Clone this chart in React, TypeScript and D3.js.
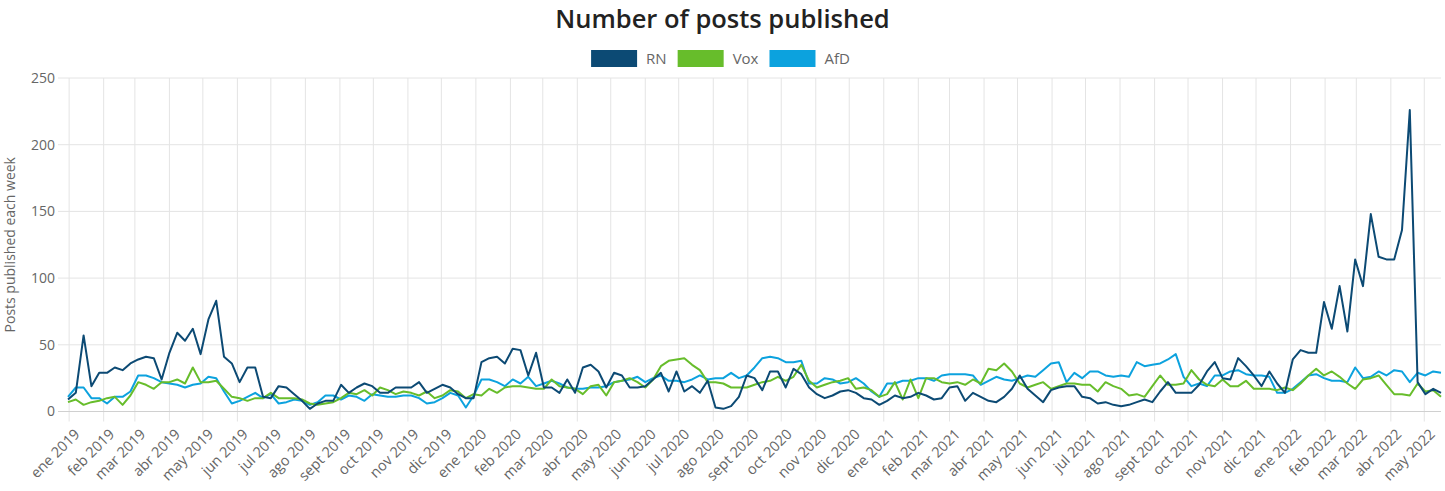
import { useEffect, useRef } from "react"
import * as d3 from "d3"

// weekly counts, first week starts Mon 31 Dec 2018
const firstWeek = new Date(2018, 11, 31)

const rn = [
  9, 14, 57, 19, 29, 29, 33, 31, 36, 39,
  41, 40, 24, 44, 59, 53, 62, 43, 69, 83,
  41, 36, 22, 33, 33, 11, 10, 19, 18, 13,
  8, 2, 6, 8, 8, 20, 14, 18, 21, 19,
  14, 14, 18, 18, 18, 22, 14, 17, 20, 18,
  13, 10, 10, 37, 40, 41, 36, 47, 46, 27,
  44, 18, 18, 14, 24, 14, 33, 35, 30, 18,
  29, 27, 18, 18, 19, 24, 29, 15, 30, 15,
  19, 14, 23, 3, 2, 4, 11, 27, 25, 16,
  30, 30, 18, 32, 28, 18, 13, 10, 12, 15,
  16, 14, 10, 9, 5, 8, 12, 10, 11, 14,
  12, 9, 10, 18, 19, 8, 14, 11, 8, 7,
  11, 17, 27, 17, 12, 7, 16, 18, 19, 19,
  11, 10, 6, 7, 5, 4, 5, 7, 9, 7,
  15, 22, 14, 14, 14, 20, 30, 37, 25, 24,
  40, 34, 27, 19, 30, 21, 14, 39, 46, 44,
  44, 82, 62, 94, 60, 114, 94, 148, 116, 114,
  114, 136, 226, 22, 13, 17, 14,
]

const vox = [
  7, 9, 5, 7, 8, 10, 11, 5, 12, 22,
  20, 17, 22, 22, 24, 21, 33, 22, 22, 23,
  17, 11, 10, 8, 10, 10, 14, 10, 10, 10,
  9, 6, 5, 6, 7, 10, 14, 13, 16, 12,
  18, 16, 13, 15, 14, 12, 15, 10, 12, 16,
  15, 10, 13, 12, 17, 14, 18, 19, 19, 18,
  17, 17, 24, 19, 18, 17, 13, 19, 20, 12,
  22, 23, 25, 22, 18, 24, 34, 38, 39, 40,
  35, 31, 22, 22, 21, 18, 18, 18, 20, 22,
  23, 26, 23, 26, 35, 23, 18, 20, 22, 23,
  25, 17, 18, 16, 11, 13, 22, 9, 24, 10,
  25, 25, 22, 21, 22, 20, 24, 21, 32, 31,
  36, 30, 21, 18, 20, 22, 17, 19, 21, 21,
  20, 20, 15, 22, 19, 17, 12, 13, 11, 19,
  27, 20, 20, 21, 31, 24, 20, 19, 24, 19,
  19, 23, 17, 17, 17, 16, 18, 16, 21, 27,
  32, 27, 30, 26, 21, 17, 24, 25, 27, 20,
  13, 13, 12, 21, 15, 16, 11,
]

const afd = [
  11, 18, 18, 10, 10, 6, 11, 11, 15, 27,
  27, 25, 22, 21, 20, 18, 20, 21, 26, 25,
  15, 6, 8, 11, 14, 10, 13, 6, 7, 9,
  8, 5, 7, 12, 12, 9, 12, 11, 8, 13,
  12, 11, 11, 12, 12, 10, 6, 7, 10, 14,
  12, 3, 12, 24, 24, 22, 19, 24, 21, 26,
  19, 21, 23, 21, 18, 17, 17, 18, 18, 19,
  22, 23, 24, 26, 22, 25, 27, 23, 23, 22,
  24, 27, 24, 25, 25, 29, 25, 27, 33, 40,
  41, 40, 37, 37, 38, 21, 21, 25, 24, 21,
  22, 25, 21, 15, 11, 21, 21, 23, 23, 25,
  25, 23, 27, 28, 28, 28, 27, 20, 23, 26,
  24, 23, 25, 27, 26, 31, 36, 37, 22, 29,
  25, 30, 30, 27, 26, 27, 26, 37, 34, 35,
  36, 39, 43, 26, 19, 21, 19, 27, 27, 30,
  31, 28, 27, 27, 26, 14, 14, 17, 22, 27,
  28, 25, 23, 23, 22, 33, 25, 26, 30, 27,
  31, 30, 22, 29, 27, 30, 29,
]

const seriesNames = ["RN", "Vox", "AfD"]
const colors = ["#0c4a74", "#67bd2b", "#0ca2de"]
const monthNames = ["ene", "feb", "mar", "abr", "may", "jun", "jul", "ago", "sept", "oct", "nov", "dic"]
const yTicks = [0, 50, 100, 150, 200, 250]

const W = 1445
const H = 491
const left = 68
const right = 1441
const top = 78
const bottom = 411.5
const font = "'Open Sans', 'DejaVu Sans', sans-serif"

const Chart = () => {
  const ref = useRef(null)

  useEffect(() => {
    const svg = d3.select(ref.current)
    svg.selectAll("*").remove()

    const dates = rn.map((_, i) => d3.timeDay.offset(firstWeek, 7 * i))
    const x = d3.scaleTime().domain([dates[0], dates[dates.length - 1]]).range([left, right])
    const y = d3.scaleLinear().domain([0, 250]).range([bottom, top])
    const months = d3.timeMonth.range(new Date(2019, 0, 1), new Date(2022, 4, 2))

    // grid
    const grid = svg.append("g")
    grid.selectAll("line.v")
      .data(months)
      .enter()
      .append("line")
      .attr("x1", d => x(d)).attr("x2", d => x(d))
      .attr("y1", top).attr("y2", bottom + 10)
      .attr("stroke", "#e4e4e4")
    grid.selectAll("line.h")
      .data(yTicks)
      .enter()
      .append("line")
      .attr("x1", left - 10).attr("x2", right)
      .attr("y1", d => y(d)).attr("y2", d => y(d))
      .attr("stroke", d => d === 0 ? "#d0d0d0" : "#e4e4e4")

    // y labels
    svg.append("g").selectAll("text")
      .data(yTicks)
      .enter()
      .append("text")
      .attr("x", left - 13)
      .attr("y", d => y(d))
      .attr("dy", "0.35em")
      .attr("text-anchor", "end")
      .attr("font-size", 14)
      .attr("fill", "#666")
      .text(d => d)

    svg.append("text")
      .attr("transform", `translate(15, ${(top + bottom) / 2}) rotate(-90)`)
      .attr("text-anchor", "middle")
      .attr("font-size", 14)
      .attr("fill", "#666")
      .text("Posts published each week")

    // x labels
    svg.append("g").selectAll("text")
      .data(months)
      .enter()
      .append("text")
      .attr("transform", d => `translate(${x(d) + 8}, ${bottom + 20}) rotate(-45)`)
      .attr("text-anchor", "end")
      .attr("dy", "0.35em")
      .attr("font-size", 14.5)
      .attr("fill", "#666")
      .text(d => `${monthNames[d.getMonth()]} ${d.getFullYear()}`)

    // lines
    const line = d3.line()
      .x((d, i) => x(dates[i]))
      .y(d => y(d))
    const all = [rn, vox, afd]
    svg.append("g").selectAll("path")
      .data([afd, vox, rn])
      .enter()
      .append("path")
      .attr("d", d => line(d))
      .attr("fill", "none")
      .attr("stroke", d => colors[all.indexOf(d)])
      .attr("stroke-width", 2)
      .attr("stroke-linejoin", "round")

    // title
    svg.append("text")
      .attr("x", W / 2)
      .attr("y", 28)
      .attr("text-anchor", "middle")
      .attr("font-size", 25.5)
      .attr("font-weight", 600)
      .attr("fill", "#222")
      .text("Number of posts published")

    // legend
    const legend = svg.append("g")
    let lx = 0
    seriesNames.forEach((name, i) => {
      const g = legend.append("g").attr("transform", `translate(${lx}, 0)`)
      g.append("rect").attr("width", 46).attr("height", 17).attr("y", 50).attr("fill", colors[i])
      const t = g.append("text")
        .attr("x", 55).attr("y", 64)
        .attr("font-size", 15)
        .attr("fill", "#666")
        .text(name)
      lx += 55 + t.node().getComputedTextLength() + 11
    })
    legend.attr("transform", `translate(${W / 2 - (lx - 11) / 2 - 2}, 0)`)
  })

  return <svg ref={ref} width={W} height={H} style={{ display: "block", fontFamily: font }} />
}

export default function App() {
  return (
    <div style={{ position: "absolute", left: 0, top: 0 }}>
      <Chart />
    </div>
  )
}
